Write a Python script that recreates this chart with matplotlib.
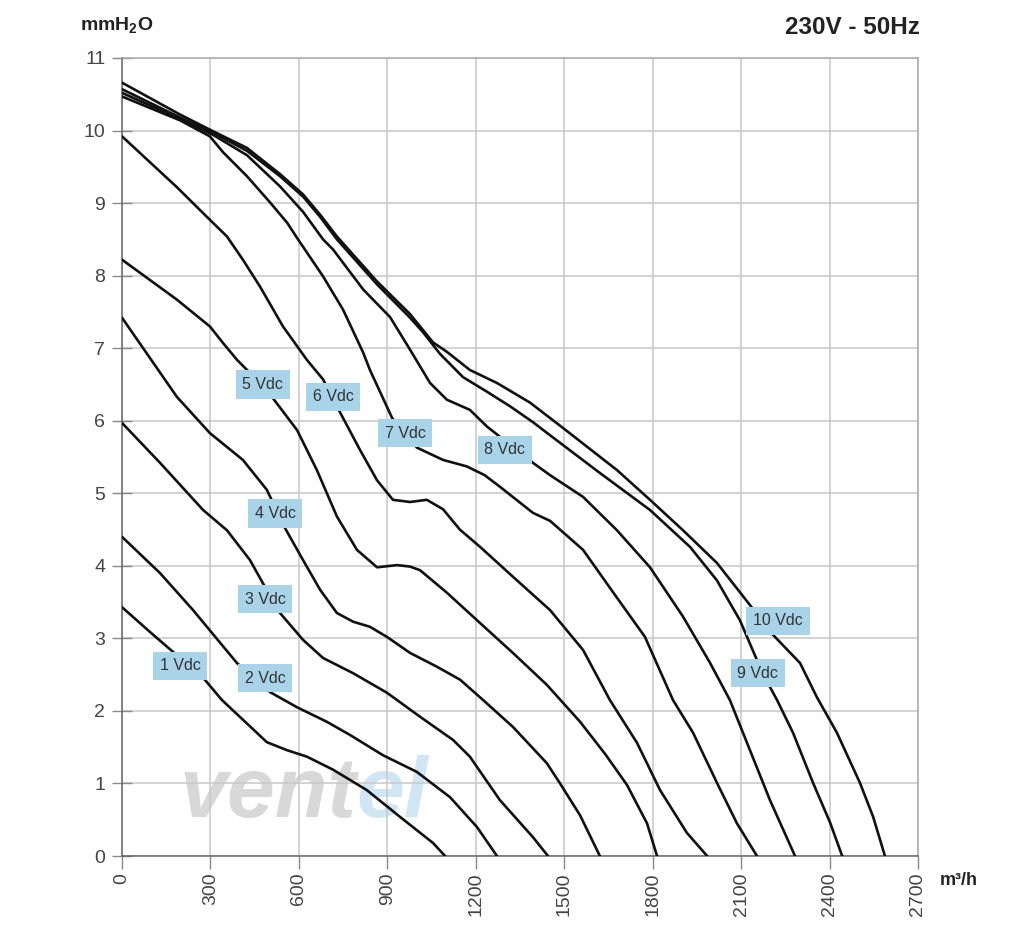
import matplotlib.pyplot as plt

plt.rcParams['font.family'] = ['Liberation Sans', 'DejaVu Sans']
plt.rcParams['mathtext.fontset'] = 'custom'
plt.rcParams['mathtext.bf'] = 'Liberation Sans:bold'
plt.rcParams['mathtext.rm'] = 'Liberation Sans'

# fan curves: airflow (m3/h) and pressure (mmH2O)
q_1 = [0, 100, 200, 281, 339, 410, 491, 559, 627, 716, 830, 943, 1055, 1096]
p_1 = [3.43, 3.07, 2.72, 2.43, 2.15, 1.88, 1.57, 1.46, 1.37, 1.19, 0.91, 0.54, 0.18, 0]

q_2 = [0, 129, 241, 390, 502, 594, 695, 773, 885, 1000, 1113, 1204, 1272]
p_2 = [4.40, 3.90, 3.39, 2.66, 2.26, 2.05, 1.85, 1.67, 1.39, 1.16, 0.81, 0.40, 0]

q_3 = [0, 129, 275, 356, 434, 478, 536, 614, 682, 784, 899, 1011, 1123, 1180, 1282, 1394, 1445]
p_3 = [5.97, 5.42, 4.77, 4.49, 4.08, 3.76, 3.35, 2.98, 2.73, 2.52, 2.25, 1.92, 1.60, 1.37, 0.77, 0.26, 0]

q_4 = [0, 186, 298, 410, 491, 553, 614, 672, 729, 784, 841, 899, 977, 1068, 1147, 1225,
       1326, 1441, 1486, 1554, 1621]
p_4 = [7.42, 6.33, 5.83, 5.46, 5.05, 4.52, 4.08, 3.67, 3.35, 3.23, 3.16, 3.02, 2.80, 2.61,
       2.43, 2.15, 1.78, 1.28, 1.00, 0.56, 0]

q_5 = [0, 186, 298, 343, 390, 424, 512, 594, 661, 729, 797, 865, 933, 977, 1011, 1102, 1215,
       1326, 1441, 1554, 1640, 1713, 1781, 1815]
p_5 = [8.22, 7.67, 7.30, 7.07, 6.84, 6.70, 6.31, 5.87, 5.32, 4.68, 4.22, 3.98, 4.01, 3.99, 3.94,
       3.63, 3.21, 2.80, 2.36, 1.85, 1.40, 0.98, 0.45, 0]

q_6 = [0, 186, 298, 356, 410, 468, 546, 627, 682, 739, 807, 865, 919, 977, 1034, 1089, 1146,
       1215, 1326, 1452, 1564, 1655, 1747, 1825, 1916, 1985]
p_6 = [9.92, 9.22, 8.77, 8.54, 8.22, 7.85, 7.30, 6.84, 6.57, 6.12, 5.60, 5.18, 4.91, 4.88, 4.91,
       4.78, 4.50, 4.26, 3.85, 3.39, 2.84, 2.15, 1.56, 0.91, 0.32, 0]

q_7 = [0, 197, 298, 343, 424, 502, 560, 597, 682, 750, 818, 841, 916, 1000, 1089, 1170, 1230,
       1282, 1394, 1452, 1564, 1665, 1774, 1869, 1937, 2018, 2086, 2154]
p_7 = [10.47, 10.14, 9.92, 9.70, 9.37, 9.01, 8.73, 8.50, 7.99, 7.53, 6.94, 6.70, 6.04, 5.63, 5.46,
       5.37, 5.25, 5.09, 4.73, 4.62, 4.22, 3.64, 3.02, 2.15, 1.70, 1.01, 0.45, 0]

q_8 = [0, 197, 309, 424, 536, 614, 682, 716, 818, 909, 977, 1045, 1102, 1180, 1238, 1394, 1452,
       1564, 1679, 1791, 1903, 1995, 2062, 2130, 2198, 2283]
p_8 = [10.52, 10.16, 9.94, 9.66, 9.23, 8.88, 8.50, 8.36, 7.81, 7.43, 6.98, 6.52, 6.29, 6.15, 5.92,
       5.42, 5.25, 4.95, 4.49, 3.98, 3.30, 2.66, 2.15, 1.46, 0.77, 0]

q_9 = [0, 197, 309, 424, 536, 614, 672, 729, 865, 977, 1021, 1079, 1157, 1238, 1316, 1394, 1452,
       1621, 1791, 1927, 2018, 2096, 2154, 2198, 2222, 2276, 2344, 2402, 2443]
p_9 = [10.57, 10.18, 9.97, 9.72, 9.37, 9.09, 8.81, 8.50, 7.88, 7.42, 7.22, 6.92, 6.60, 6.40, 6.20,
       5.98, 5.80, 5.28, 4.77, 4.26, 3.80, 3.25, 2.70, 2.33, 2.15, 1.70, 1.01, 0.46, 0]

q_10 = [0, 197, 309, 424, 536, 614, 672, 729, 865, 977, 1055, 1102, 1180, 1272, 1384, 1496, 1679,
        1791, 1903, 2018, 2130, 2208, 2300, 2357, 2425, 2503, 2548, 2588]
p_10 = [10.66, 10.22, 9.99, 9.76, 9.40, 9.12, 8.84, 8.54, 7.92, 7.47, 7.08, 6.95, 6.70, 6.52, 6.25,
        5.90, 5.32, 4.91, 4.49, 4.04, 3.46, 3.05, 2.66, 2.19, 1.70, 1.01, 0.54, 0]

labels = ['1 Vdc', '2 Vdc', '3 Vdc', '4 Vdc', '5 Vdc', '6 Vdc', '7 Vdc', '8 Vdc', '9 Vdc', '10 Vdc']
label_q = [197, 485, 485, 519, 478, 716, 960, 1299, 2157, 2225]
label_p = [2.62, 2.45, 3.54, 4.72, 6.50, 6.33, 5.83, 5.60, 2.52, 3.24]

x_ticks = [0, 300, 600, 900, 1200, 1500, 1800, 2100, 2400, 2700]
y_ticks = [0, 1, 2, 3, 4, 5, 6, 7, 8, 9, 10, 11]

curves = [(q_1, p_1), (q_2, p_2), (q_3, p_3), (q_4, p_4), (q_5, p_5),
          (q_6, p_6), (q_7, p_7), (q_8, p_8), (q_9, p_9), (q_10, p_10)]

fig = plt.figure(figsize=(10.15, 9.46), dpi=100)
ax = fig.add_axes([0.1202, 0.0951, 0.7842, 0.8436])

# faint watermark
ax.text(0.295, 0.076, 'vent', transform=ax.transAxes, fontsize=62, fontweight='bold',
        style='italic', color='#d8d8d8', ha='right', va='center', zorder=0)
ax.text(0.295, 0.076, 'el', transform=ax.transAxes, fontsize=62, fontweight='bold',
        style='italic', color='#d0e6f4', ha='left', va='center', zorder=0)

for q, p in curves:
    ax.plot(q, p, color='#111111', lw=1.9, solid_joinstyle='round',
            solid_capstyle='round', zorder=3)

for txt, x, y in zip(labels, label_q, label_p):
    ax.text(x, y, txt, fontsize=11.5, color='#333333', ha='center', va='center', zorder=5,
            bbox=dict(boxstyle='square,pad=0.42', facecolor='#a9d3e8', edgecolor='none'))

ax.set_xlim(0, 2700)
ax.set_ylim(0, 11)
ax.set_xticks(x_ticks)
ax.set_yticks(y_ticks)
ax.set_xticklabels([str(t) for t in x_ticks], rotation=90)
ax.grid(True, color='#c8c8c8', lw=1.1, zorder=1)
ax.tick_params(axis='x', direction='out', length=9, width=1, color='#888888',
               labelsize=14, labelcolor='#444444', pad=3)
ax.tick_params(axis='y', direction='inout', length=14, width=1, color='#888888',
               labelsize=14, labelcolor='#444444', pad=5)
for side in ['left', 'bottom']:
    ax.spines[side].set_color('#666666')
    ax.spines[side].set_linewidth(1.1)
for side in ['top', 'right']:
    ax.spines[side].set_color('#aaaaaa')
    ax.spines[side].set_linewidth(1.1)

fig.text(80 / 1015, 1 - 25 / 946, r'$\mathbf{mmH_2O}$', fontsize=14, color='#222222',
         ha='left', va='center')
fig.text(920 / 1015, 1 - 28 / 946, '230V - 50Hz', fontsize=17.5, fontweight='bold', color='#222222',
         ha='right', va='center')
fig.text(940 / 1015, 1 - 880 / 946, 'm³/h', fontsize=13, fontweight='bold', color='#222222',
         ha='left', va='center')

fig.savefig('out.png', dpi=100)
